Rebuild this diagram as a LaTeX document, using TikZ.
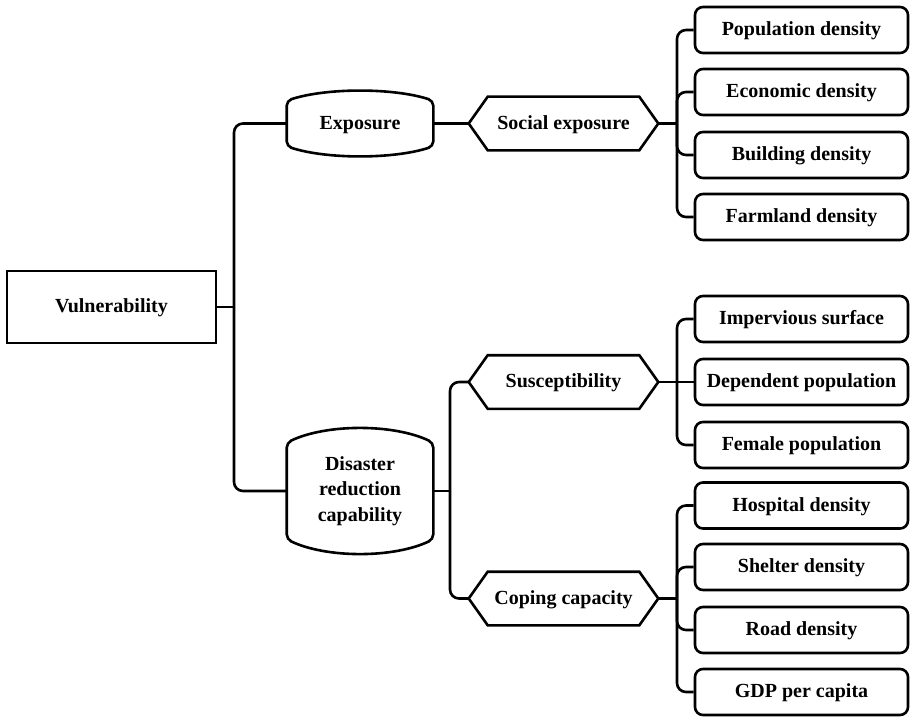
\documentclass[tikz,border=0pt]{standalone}
\usepackage{fontspec}
\setmainfont{Liberation Serif}
\begin{document}
\begin{tikzpicture}[x=1pt,y=-1pt,line width=2.6pt,
  font=\fontsize{20}{25.5}\selectfont\bfseries,
  oneline/.style={text height=15pt,text depth=4pt},
  leaf/.style={draw,oneline,rounded corners=8pt,minimum width=213,minimum height=46,inner sep=0},
  hexnode/.style={oneline,minimum width=187,minimum height=51,inner sep=0},
  lensnode/.style={minimum width=144,inner sep=0,align=center},
  conn/.style={rounded corners=9pt}]
\useasboundingbox (0,0) rectangle (911,717);
% root
\node[draw,oneline,minimum width=209,minimum height=72,inner sep=0] (vul) at (111.5,307) {Vulnerability};
% level 1
\node[lensnode,oneline,minimum height=43] (exp) at (360,123.5) {Exposure};
\node[lensnode,minimum height=94] (drc) at (360,491) {Disaster\\reduction\\capability};
\foreach \n/\b in {exp/13,drc/19}
  \draw[rounded corners=5pt] (\n.north west) .. controls +(40,-\b) and +(-40,-\b) .. (\n.north east) -- (\n.south east) .. controls +(-40,\b) and +(40,\b) .. (\n.south west) -- cycle;
% level 2
\node[hexnode] (soc) at (563.5,123.5) {Social exposure};
\node[hexnode] (sus) at (563.5,382) {Susceptibility};
\node[hexnode] (cop) at (563.5,598.5) {Coping capacity};
\foreach \n in {soc,sus,cop}
  \draw[line join=miter] (\n.west) -- ([xshift=19pt]\n.north west) -- ([xshift=-19pt]\n.north east) -- (\n.east) -- ([xshift=-19pt]\n.south east) -- ([xshift=19pt]\n.south west) -- cycle;
% leaves
\node[leaf] (pop) at (801.5,30) {Population density};
\node[leaf] (eco) at (801.5,92) {Economic density};
\node[leaf] (bld) at (801.5,155) {Building density};
\node[leaf] (frm) at (801.5,217) {Farmland density};
\node[leaf] (imp) at (801.5,319) {Impervious surface};
\node[leaf] (dep) at (801.5,382) {Dependent population};
\node[leaf] (fem) at (801.5,445) {Female population};
\node[leaf] (hos) at (801.5,505.5) {Hospital density};
\node[leaf] (she) at (801.5,567) {Shelter density};
\node[leaf] (rod) at (801.5,630) {Road density};
\node[leaf] (gdp) at (801.5,692) {GDP per capita};
% connectors
\coordinate (t) at (234,307);
\draw (vul.east) -- (t);
\draw[conn] (t) |- (exp.west);
\draw[conn] (t) |- (drc.west);
\draw (exp.east) -- (soc.west);
\coordinate (m) at (450,491);
\draw (drc.east) -- (m);
\draw[conn] (m) |- (sus.west);
\draw[conn] (m) |- (cop.west);
\coordinate (s1) at (677,123.5);
\draw (soc.east) -- (s1);
\foreach \l in {pop,eco,bld,frm} \draw[conn] (s1) |- (\l.west);
\coordinate (s2) at (677,382);
\draw (sus.east) -- (s2);
\draw (s2) -- (dep.west);
\foreach \l in {imp,fem} \draw[conn] (s2) |- (\l.west);
\coordinate (s3) at (677,598.5);
\draw (cop.east) -- (s3);
\foreach \l in {hos,she,rod,gdp} \draw[conn] (s3) |- (\l.west);
\end{tikzpicture}
\end{document}
